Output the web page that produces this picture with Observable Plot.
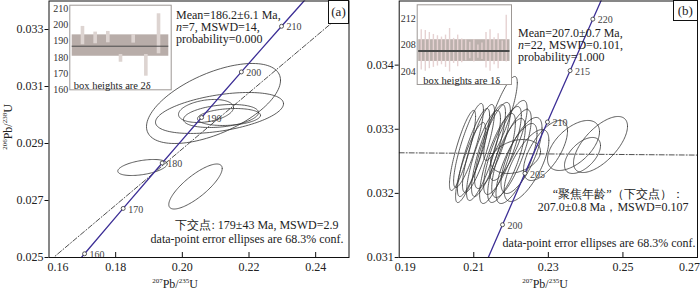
<!DOCTYPE html>
<html><head><meta charset="utf-8">
<script src="https://cdn.jsdelivr.net/npm/d3@7"></script>
<script src="https://cdn.jsdelivr.net/npm/@observablehq/plot@0.6"></script>
<style>
body{margin:0;background:#fff;}
#wrap{position:relative;width:700px;height:291px;font-family:"Liberation Serif","Times New Roman",serif;color:#222;}
.tag{position:absolute;box-sizing:border-box;border:1px solid #111;background:#fff;font-size:13px;text-align:center;}
.ttl{position:absolute;font-size:12px;line-height:12px;white-space:nowrap;}
.ttl sup{font-size:7px;line-height:7px;vertical-align:baseline;position:relative;top:-5px;}
.sline{position:absolute;font-size:12px;line-height:12px;height:12px;white-space:pre;color:#222;}
</style></head><body>
<div id="wrap"></div>
<script>
// ---------- DATA ----------
// Concordia (age in Ma, 207Pb/235U, 206Pb/238U)
const concAge = [150,160,170,180,190,195,200,205,210,215,220,225,230];
const concX = [0.159197,0.170670,0.182256,0.193957,0.205774,0.211726,0.217708,0.223719,0.229759,0.235830,0.241930,0.248061,0.254222];
const concY = [0.023542,0.025131,0.026722,0.028316,0.029912,0.030711,0.031511,0.032312,0.033113,0.033914,0.034717,0.035519,0.036323];
const markAgesA = [160,170,180,190,200,210];
const markAgesB = [200,205,210,215,220];

// Panel (a) ellipses: centre x, centre y, half-width x, half-height y, correlation
const ellAx   = [0.20935,0.21115,0.2071,0.2116,0.2140,0.18805,0.20395];
const ellAy   = [0.030404,0.030071,0.030141,0.029965,0.029930,0.028158,0.027491];
const ellAsx  = [0.0201,0.0192,0.00825,0.01125,0.00945,0.00741,0.00801];
const ellAsy  = [0.001404,0.000719,0.000404,0.000404,0.000298,0.000281,0.00079];
const ellArho = [0.58,0.45,0.3,0.3,0.2,0.45,0.8];

// Panel (b) ellipses
const ellBx   = [0.20698,0.20859,0.20993,0.21127,0.21261,0.21395,0.21502,0.21636,0.21770,0.21878,0.22012,0.21717,0.22146,0.22280,0.22414,0.20912,0.21931,0.23675,0.24399,0.23916,0.22924,0.22119];
const ellBy   = [0.032669,0.032747,0.032637,0.032700,0.032591,0.032669,0.032747,0.032544,0.032669,0.032513,0.032622,0.033168,0.032466,0.032591,0.032435,0.032481,0.032825,0.032747,0.032762,0.032591,0.032669,0.032575];
const ellBsx  = [0.00350,0.00400,0.00430,0.00430,0.00455,0.00455,0.00480,0.00480,0.00505,0.00505,0.00530,0.00450,0.00550,0.00550,0.0060,0.00400,0.00500,0.00697,0.00724,0.00483,0.0059,0.00671];
const ellBsy  = [0.000624,0.000655,0.000686,0.000686,0.000702,0.000717,0.000671,0.000702,0.000686,0.000655,0.000686,0.000655,0.000624,0.000593,0.000561,0.000624,0.000624,0.00039,0.000437,0.000281,0.000468,0.000265];
const ellBrho = [0.85,0.85,0.85,0.83,0.82,0.82,0.8,0.8,0.8,0.78,0.78,0.85,0.75,0.72,0.7,0.85,0.8,0.55,0.65,0.55,0.65,0.3];

// Discordia lines (end points)
const discAx = [0.158, 0.25],  discAy = [0.02467, 0.03374];
const discBx = [0.19, 0.27],   discBy = [0.032633, 0.032597];

// Axis ticks
const xTicksA = [0.16,0.18,0.20,0.22,0.24];
const yTicksA = [0.025,0.027,0.029,0.031,0.033];
const xTicksB = [0.19,0.21,0.23,0.25,0.27];
const yTicksB = [0.031,0.032,0.033,0.034];

// Inset (a): weighted mean bars (Ma)
const barLoA = [187.8,188.4,189.0,177.0,188.8,168.4,182.2];
const barHiA = [199.1,195.6,196.0,181.8,194.1,181.8,206.9];
const bandA = [180.7,193.9], meanA = 186.9;
const insetTicksA = [160,170,180,190,200,210];

// Inset (b)
const barLoB = [204.2,204.0,204.4,204.6,204.8,205.0,204.6,203.9,205.2,204.7,205.3,205.6,205.9,205.4,206.0,205.8,204.5,204.0,205.0,204.4,205.5,205.4];
const barHiB = [210.3,210.2,209.9,209.6,209.4,209.2,209.5,210.5,209.0,209.5,208.9,208.8,208.4,208.8,208.0,208.3,209.9,210.3,209.1,209.7,208.6,212.5];
const bandB = [205.5,208.8], meanB = 207.1;
const insetTicksB = [204,208,212];

// Annotation texts (position = data coordinates of first line's left edge / last char)
const statsA = ["Mean=186.2±6.1 Ma,", "<i>n</i>=7, MSWD=14,", "probability=0.000"];
const statsAx = 0.19825, statsAy = 0.033492;
const noteA = ["下交点: 179±43 Ma, MSWD=2.9", "data-point error ellipses are 68.3% conf."];
const noteAx = [0.24685,0.24835], noteAy = [0.026123,0.025632];
const statsB = ["Mean=207.0±0.7 Ma,", "<i>n</i>=22, MSWD=0.101,", "probability=1.000"];
const statsBx = 0.22200, statsBy = 0.034493;
const noteB = ["“聚焦年龄”（下交点）：", "207.0±0.8 Ma，MSWD=0.107", "data-point error ellipses are 68.3% conf."];
const noteBx = [0.26625,0.26759,0.26946], noteBy = [0.031983,0.031785,0.031229];

// ---------- BUILD ----------
const SERIF = "Liberation Serif, Times New Roman, serif";
const CJK = "Liberation Serif, Noto Sans CJK SC, sans-serif";
const conc = concAge.map((a,i)=>({age:a,x:concX[i],y:concY[i]}));
function ellipseRows(xs, ys, sxs, sys, rhos){
  const rows=[];
  xs.forEach((cx,i)=>{
    const r=rhos[i], q=Math.sqrt(1-r*r);
    for(let k=0;k<=120;k++){
      const t=2*Math.PI*k/120;
      rows.push({id:i, x:cx+sxs[i]*Math.cos(t), y:ys[i]+sys[i]*(r*Math.cos(t)+q*Math.sin(t))});
    }
  });
  return rows;
}
const f2 = d3.format(".2f"), f3 = d3.format(".3f");
const baseStyle = {fontFamily: SERIF, fontSize: "12px", color: "#222", background: "transparent", overflow: "visible"};

function panel(opts){
  const {xd, yd, ml, mr, ells, disc, marks, xt, yt, note, nx, ny, nFam} = opts;
  const markRows = conc.filter(d=>marks.includes(d.age));
  return Plot.plot({
    width: 350, height: 291, marginLeft: ml, marginRight: mr, marginTop: 0.5, marginBottom: 34,
    style: baseStyle,
    x: {domain: xd}, y: {domain: yd},
    marks: [
      Plot.line(ells, {x:"x", y:"y", z:"id", stroke:"#333", strokeWidth:0.8, clip:true}),
      Plot.line(disc.x.map((x,i)=>({x, y:disc.y[i]})), {x:"x", y:"y", stroke:"#222", strokeWidth:0.8, strokeDasharray:"5,2,1,2", clip:true}),
      Plot.line(conc, {x:"x", y:"y", stroke:"#3d2f96", strokeWidth:1.3, curve:"catmull-rom", clip:true}),
      Plot.dot(markRows, {x:"x", y:"y", r:2, stroke:"#333", strokeWidth:0.8, fill:"white"}),
      Plot.text(markRows, {x:"x", y:"y", text:d=>String(d.age), dx:5, dy:1, textAnchor:"start", fontSize:10, fill:"#444"}),
      Plot.text(note, {x: (d,i)=>nx[i], y: (d,i)=>ny[i], text: d=>d, textAnchor:"end", fontSize:12, fill:"#222", fontFamily:(d,i)=> nFam[i]}),
      Plot.tickX(xt.filter(v=>v>xd[0] && v<xd[1]), {x:d=>d, insetTop: 251.5, stroke:"#111"}),
      Plot.axisY(yt, {tickFormat: f3, tickSize: 4, tickPadding: 1.5, fontSize: 12, stroke:"#111", label: null}),
      Plot.axisX(xt.slice(1, -1), {tickFormat: f2, tickSize: 0, tickPadding: 5, fontSize: 12, label: null}),
      Plot.axisX([xt[0]], {tickFormat: f2, tickSize: 0, tickPadding: 5, fontSize: 12, dx: opts.firstDx, label: null}),
      Plot.axisX([xt[xt.length-1]], {tickFormat: f2, tickSize: 0, tickPadding: 5, fontSize: 12, dx: opts.lastDx, label: null}),
      Plot.frame({stroke:"#111", strokeWidth:1})
    ]
  });
}

const panelA = panel({xd:[0.16,0.25], yd:[0.025,0.034], ml:48.5, mr:1.5,
  ells: ellipseRows(ellAx,ellAy,ellAsx,ellAsy,ellArho), disc:{x:discAx,y:discAy}, marks: markAgesA,
  xt: xTicksA, yt: yTicksA,
  note: noteA, nx: noteAx, ny: noteAy, nFam:[CJK, SERIF], firstDx: 9, lastDx: 0});
const panelB = panel({xd:[0.19,0.27], yd:[0.031,0.035], ml:48.7, mr:3,
  ells: ellipseRows(ellBx,ellBy,ellBsx,ellBsy,ellBrho), disc:{x:discBx,y:discBy}, marks: markAgesB,
  xt: xTicksB, yt: yTicksB,
  note: noteB, nx: noteBx, ny: noteBy, nFam:["Noto Sans CJK SC, sans-serif", CJK, SERIF], firstDx: 6, lastDx: -8});

function inset(o){
  const idx = o.lo.map((_,i)=>i+1);
  return Plot.plot({
    width: o.w, height: o.h, marginLeft: o.ml, marginRight: o.mr, marginTop: o.mt, marginBottom: o.mb,
    style: baseStyle,
    x: {domain: o.xd, axis: null}, y: {domain: o.yd, axis: null},
    marks: [
      Plot.frame({fill:"white"}),
      Plot.rect([0], {y1: o.band[0], y2: o.band[1], insetLeft: o.bi, insetRight: o.bi, fill: o.bandFill}),
      Plot.ruleX(idx, {x: d=>d, y1: d=>o.lo[d-1], y2: d=>o.hi[d-1], stroke: o.barFill, strokeWidth: o.bw}),
      Plot.ruleY([o.mean], {insetLeft: o.bi, insetRight: o.bi, stroke: "#4a4a4a", strokeWidth: o.mw}),
      Plot.frame({stroke:"#9d9895"}),
      Plot.axisY(o.ticks, {tickSize: 0, tickPadding: 1.5, fontSize: 10, fill:"#333", label: null}),
      Plot.text([o.label], {frameAnchor:"bottom-left", text: d=>d, dx: o.ldx, dy: -1, lineAnchor:"bottom", textAnchor:"start", fontSize: 10.5, fill:"#222"})
    ]
  });
}
const insetA = inset({w:132, h:92, ml:29.3, mr:1.3, mt:4.7, mb:2.7, xd:[0,8], yd:[160,212.2],
  lo: barLoA, hi: barHiA, band: bandA, mean: meanA, bi: 2.4, bandFill:"#b8ada9", barFill:"#ddd4d1", bw:3.6, mw:1,
  ticks: insetTicksA, label:"box heights are 2δ", ldx: 4});
const insetB = inset({w:116, h:88, ml:18.7, mr:3, mt:4.3, mb:4, xd:[0,23.3], yd:[202,214.1],
  lo: barLoB, hi: barHiB, band: bandB, mean: meanB, bi: 1.5, bandFill:"#bcb1ad", barFill:"#e6d2d2", bw:1.4, mw:2,
  ticks: insetTicksB, label:"box heights are 1δ", ldx: 6});

const wrap = document.getElementById("wrap");
function place(node, left, top){ node.style.position="absolute"; node.style.left=left+"px"; node.style.top=top+"px"; wrap.appendChild(node); }
place(panelA, 0, 0);
place(panelB, 350, 0);
place(insetA, 40, 0);
place(insetB, 398, 0);

function html(s){ const d=document.createElement("div"); d.innerHTML=s; return d.firstChild; }
// statistics lines placed through the panels' own scales
function statsBlock(plot, left, lines, vx, vy){
  const px = plot.scale("x").apply(vx) + left;
  const py = plot.scale("y").apply(vy);
  lines.forEach((s, i) => {
    const d = html('<div class="sline">' + s + '</div>');
    d.style.left = px + "px"; d.style.top = (py - 6 + i * 12) + "px";
    wrap.appendChild(d);
  });
}
statsBlock(panelA, 0, statsA, statsAx, statsAy);
statsBlock(panelB, 350, statsB, statsBx, statsBy);

wrap.appendChild(html('<div class="tag" style="left:328px;top:0;width:21px;height:23.5px;line-height:21px;">(a)</div>'));
wrap.appendChild(html('<div class="tag" style="left:673px;top:0;width:24.5px;height:21px;line-height:19px;">(b)</div>'));
wrap.appendChild(html('<div class="ttl" style="left:175px;top:284px;transform:translate(-50%,-50%);"><sup>207</sup>Pb/<sup>235</sup>U</div>'));
wrap.appendChild(html('<div class="ttl" style="left:545px;top:284px;transform:translate(-50%,-50%);"><sup>207</sup>Pb/<sup>235</sup>U</div>'));
wrap.appendChild(html('<div class="ttl" style="left:8px;top:127px;transform:translate(-50%,-50%) rotate(-90deg);"><sup>206</sup>Pb/<sup>238</sup>U</div>'));
</script>
</body></html>
